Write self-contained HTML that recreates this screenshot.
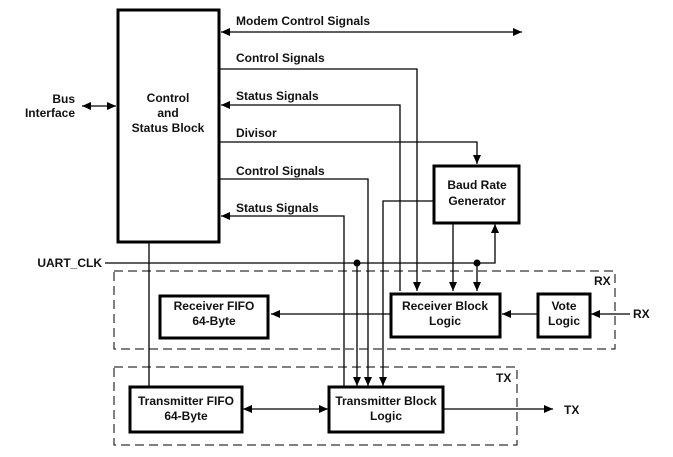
<!DOCTYPE html>
<html><head><meta charset="utf-8"><style>
html,body{margin:0;padding:0;background:#fff;}
svg{display:block;}
text{font-family:"Liberation Sans",Arial,sans-serif;font-weight:bold;font-size:12px;fill:#111;}
</style></head><body>
<svg width="673" height="457" viewBox="0 0 673 457" xmlns="http://www.w3.org/2000/svg">
<defs>
<marker id="a" markerWidth="10" markerHeight="10" refX="9" refY="5" orient="auto" markerUnits="userSpaceOnUse">
<path d="M0,1 L9,5 L0,9 z" fill="#000"/></marker>
<marker id="s" markerWidth="10" markerHeight="10" refX="0" refY="5" orient="auto" markerUnits="userSpaceOnUse">
<path d="M9,1 L0,5 L9,9 z" fill="#000"/></marker>
</defs>
<g fill="none" stroke="#000" stroke-width="1.3">
<!-- dashed groups -->
<rect x="114" y="271" width="501" height="78" stroke-dasharray="9,5" stroke-width="1"/>
<rect x="114" y="367" width="403" height="78" stroke-dasharray="9,5" stroke-width="1"/>
<!-- modem -->
<line x1="221" y1="32" x2="522" y2="32" marker-start="url(#s)" marker-end="url(#a)"/>
<!-- bus -->
<line x1="82" y1="106" x2="116" y2="106" marker-start="url(#s)" marker-end="url(#a)"/>
<!-- control signals 1 -->
<polyline points="220,69 417,69 417,291" marker-end="url(#a)"/>
<!-- status 1 -->
<polyline points="400,291 400,105 221,105" marker-end="url(#a)"/>
<!-- divisor -->
<polyline points="220,142 477,142 477,164" marker-end="url(#a)"/>
<!-- control 2 -->
<polyline points="220,179 368,179 368,386" marker-end="url(#a)"/>
<!-- status 2 -->
<polyline points="344,386 344,216 221,216" marker-end="url(#a)"/>
<!-- baud left -->
<polyline points="433,201 383,201 383,386" marker-end="url(#a)"/>
<!-- baud bottom -->
<line x1="453" y1="223" x2="453" y2="291" marker-end="url(#a)"/>
<!-- uart clk -->
<polyline points="105,263 495,263 495,224" marker-end="url(#a)"/>
<line x1="357" y1="263" x2="357" y2="386" marker-end="url(#a)"/>
<line x1="477" y1="263" x2="477" y2="291" marker-end="url(#a)"/>
<!-- control to tx fifo -->
<line x1="149" y1="242" x2="149" y2="387"/>
<!-- rx path -->
<line x1="630" y1="314" x2="591" y2="314" marker-end="url(#a)"/>
<line x1="537" y1="314" x2="502" y2="314" marker-end="url(#a)"/>
<line x1="391" y1="314" x2="271" y2="314" marker-end="url(#a)"/>
<!-- tx path -->
<line x1="243" y1="409" x2="328" y2="409" marker-start="url(#s)" marker-end="url(#a)"/>
<line x1="443" y1="409" x2="553" y2="409" marker-end="url(#a)"/>
</g>
<circle cx="357" cy="263" r="3.5" fill="#000"/>
<circle cx="477" cy="263" r="3.5" fill="#000"/>
<g fill="#fff" stroke="#000" stroke-width="3">
<rect x="118" y="10" width="101" height="232"/>
<rect x="434" y="166" width="85" height="57"/>
<rect x="391" y="294" width="109" height="43"/>
<rect x="538" y="294" width="52" height="43"/>
<rect x="160" y="296" width="108" height="42"/>
<rect x="130" y="387" width="112" height="45"/>
<rect x="329" y="387" width="114" height="45"/>
</g>
<g text-anchor="middle">
<text x="168" y="102">Control</text>
<text x="168" y="117">and</text>
<text x="168" y="132">Status Block</text>
<text x="477" y="189">Baud Rate</text>
<text x="477" y="205">Generator</text>
<text x="445" y="310">Receiver Block</text>
<text x="445" y="325">Logic</text>
<text x="564" y="310">Vote</text>
<text x="564" y="325">Logic</text>
<text x="214" y="310">Receiver FIFO</text>
<text x="214" y="325">64-Byte</text>
<text x="186" y="405">Transmitter FIFO</text>
<text x="186" y="420">64-Byte</text>
<text x="386" y="405">Transmitter Block</text>
<text x="386" y="420">Logic</text>
</g>
<g text-anchor="end">
<text x="75" y="103">Bus</text>
<text x="75" y="117">Interface</text>
<text x="102" y="267">UART_CLK</text>
</g>
<text x="236" y="25">Modem Control Signals</text>
<text x="236" y="62">Control Signals</text>
<text x="236" y="100">Status Signals</text>
<text x="236" y="137">Divisor</text>
<text x="236" y="175">Control Signals</text>
<text x="236" y="212">Status Signals</text>
<text x="594" y="285">RX</text>
<text x="496" y="382">TX</text>
<text x="633" y="318">RX</text>
<text x="564" y="414">TX</text>
</svg>
</body></html>
